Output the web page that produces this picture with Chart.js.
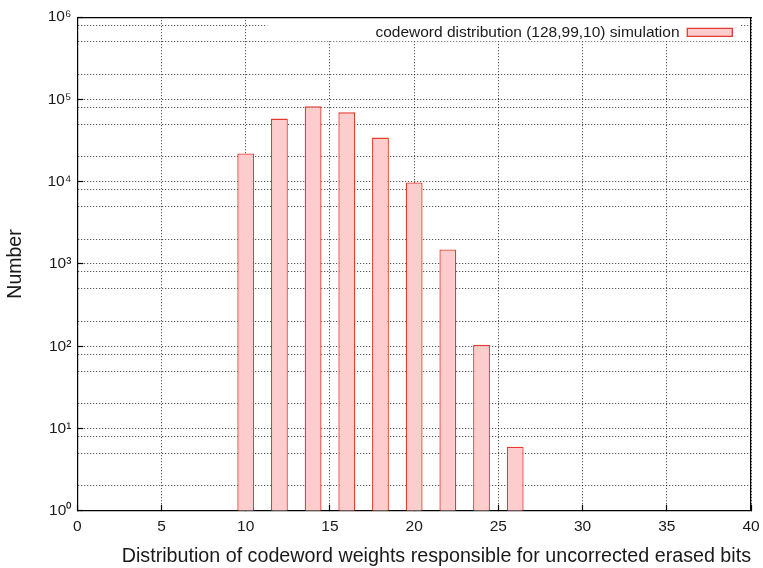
<!DOCTYPE html>
<html>
<head>
<meta charset="utf-8">
<script src="https://cdn.jsdelivr.net/npm/chart.js@4/dist/chart.umd.min.js"></script>
<style>
  body { margin: 0; background: #fff; }
  #wrap { width: 763px; height: 568px; }
</style>
</head>
<body>
<div id="wrap"><canvas id="weightChart"></canvas></div>
<script>
// codeword weights (x) and simulated counts (log y)
const weights = [10, 12, 14, 16, 18, 20, 22, 24, 26];
const counts = [22000, 58500, 82500, 69700, 34400, 9770, 1500, 104, 6];
const seriesLabel = "codeword distribution (128,99,10) simulation";
const xTickStep = 5;
const yGridValues = [1, 2, 5, 8, 10, 20, 50, 80, 100, 200, 500, 800, 1000, 2000, 5000, 8000,
    10000, 20000, 50000, 80000, 100000, 200000, 500000, 800000, 1000000];
const sup = { 0: "\u2070", 1: "\u00b9", 2: "\u00b2", 3: "\u00b3", 4: "\u2074", 5: "\u2075", 6: "\u2076" };

const FONT = "'Liberation Sans', Arial, sans-serif";
const TXT = '#1a1a1a';
const GRID = 'rgba(0,0,0,0.8)';

function isDecade(v) {
    let e = Math.log10(v);
    return Math.abs(e - Math.round(e)) < 1e-9;
}

// gnuplot style key: inside the plot, top right, opaque
let legendInside = {
    id: 'legendInside',
    afterLayout(chart) {
        let lg = chart.legend, area = chart.chartArea;
        let h = lg.height;
        lg.top = area.top - 2.5;
        lg.bottom = lg.top + h;
        lg.left = area.left;
        lg.right = area.right - 8.7;
        lg.width = lg.right - lg.left;
        if (!lg._patched) {
            let orig = lg.draw;
            lg.draw = function () {
                let a = chart.chartArea, ctx = chart.ctx;
                ctx.save();
                ctx.fillStyle = '#fff';
                ctx.fillRect(a.left + 190, a.top + 1, a.right - a.left - 201, 23);
                ctx.restore();
                orig.apply(this, arguments);
            };
            lg._patched = true;
        }
    }
};

let ctx = document.getElementById("weightChart").getContext('2d');

let myBarChart = new Chart(ctx, {
    type: 'bar',
    data: {
        datasets: [{
            label: seriesLabel,
            data: weights.map((w, i) => ({ x: w, y: counts[i] })),
            backgroundColor: '#fdcdcd',
            borderColor: '#e53a30',
            borderWidth: 1.3,
            barPercentage: 0.5,
            categoryPercentage: 1.0
        }]
    },
    options: {
        responsive: true,
        maintainAspectRatio: false,
        animation: false,
        layout: { padding: { top: -18.3, right: 12, bottom: 0, left: 0 } },
        plugins: {
            tooltip: { enabled: false },
            legend: {
                position: 'top',
                align: 'start',
                rtl: true,
                labels: {
                    boxWidth: 45,
                    boxHeight: 8,
                    padding: 10,
                    color: TXT,
                    font: { family: FONT, size: 15.5 }
                }
            }
        },
        scales: {
            x: {
                type: 'linear',
                position: 'bottom',
                offset: false,
                min: 0,
                max: 40,
                afterFit: (scale) => { scale.paddingRight = 0; },
                ticks: { stepSize: xTickStep, padding: 13, color: TXT, font: { family: FONT, size: 15.5 } },
                grid: { color: GRID, offset: false, drawTicks: true, tickLength: -6, tickColor: '#000', tickWidth: 1.2 },
                border: { color: '#000', width: 1.2, dash: [1, 2] },
                title: {
                    display: true,
                    align: 'end',
                    text: 'Distribution of codeword weights responsible for uncorrected erased bits',
                    color: TXT,
                    font: { family: FONT, size: 19.7 },
                    padding: { top: -5, bottom: 0 }
                }
            },
            y: {
                type: 'logarithmic',
                position: 'left',
                min: 1,
                max: 1000000,
                afterBuildTicks: (scale) => {
                    scale.ticks = yGridValues.map(v => ({ value: v }));
                },
                afterFit: (scale) => { scale.paddingTop = 0; scale.paddingBottom = 0; },
                ticks: {
                    autoSkip: false,
                    padding: 12,
                    color: TXT,
                    font: { family: FONT, size: 15.5 },
                    callback: function (value) {
                        return isDecade(value) ? '10' + sup[Math.round(Math.log10(value))] : '';
                    }
                },
                grid: {
                    color: GRID,
                    drawTicks: true,
                    tickLength: -6,
                    tickWidth: 1.2,
                    tickColor: (c) => (c.tick && isDecade(c.tick.value)) ? '#000' : 'rgba(0,0,0,0)'
                },
                border: { color: '#000', width: 1.2, dash: [1, 2] },
                title: {
                    display: true,
                    text: 'Number',
                    color: TXT,
                    font: { family: FONT, size: 19.5 },
                    padding: { top: 4, bottom: 8 }
                }
            },
            xTop: {
                type: 'linear',
                position: 'top',
                offset: false,
                min: 0,
                max: 40,
                afterFit: (scale) => { scale.paddingRight = 0; },
                ticks: { display: false },
                grid: { drawOnChartArea: false, drawTicks: false },
                border: { color: '#000', width: 1.2 }
            },
            yRight: {
                type: 'logarithmic',
                position: 'right',
                min: 1,
                max: 1000000,
                ticks: { display: false },
                grid: { drawOnChartArea: false, drawTicks: false },
                border: { color: '#000', width: 1.2 }
            }
        }
    },
    plugins: [legendInside]
});
</script>
</body>
</html>
